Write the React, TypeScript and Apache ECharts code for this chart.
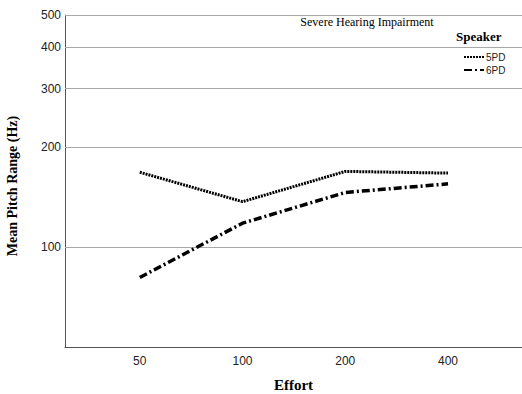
import React, { useEffect, useRef } from "react";
import * as echarts from "echarts";

const categories = ["50", "100", "200", "400"];
const series5PD = [168, 137, 169, 167];
const series6PD = [81, 118, 146, 155];
const yTicks = [100, 200, 300, 400, 500];

export default function App() {
  const ref = useRef<HTMLDivElement>(null);
  useEffect(() => {
    if (!ref.current) return;
    const chart = echarts.init(ref.current, undefined, { renderer: "svg" });
    const toPairs = (arr: number[]) => arr.map((v, i) => [i, v]);
    chart.setOption({
      animation: false,
      backgroundColor: "#ffffff",
      title: {
        text: "Severe Hearing Impairment",
        left: 362,
        top: 11,
        textAlign: "center",
        textStyle: { fontFamily: "Liberation Serif", fontSize: 12, fontWeight: "normal", color: "#000" },
      },
      graphic: [
        {
          type: "text",
          left: 456,
          top: 30,
          style: { text: "Speaker", fontFamily: "Liberation Serif", fontSize: 13, fontWeight: "bold", fill: "#000" },
        },
      ],
      legend: {
        orient: "vertical",
        left: 458,
        top: 47,
        itemWidth: 20,
        itemHeight: 8,
        itemGap: 3,
        itemStyle: { opacity: 0 },
        textStyle: { fontFamily: "Liberation Sans", fontSize: 10, color: "#222", padding: [0, 0, 0, -3] },
        data: ["5PD", "6PD"],
      },
      grid: { left: 65, right: 0, top: 15, bottom: 47, outerBoundsMode: "none" },
      xAxis: {
        type: "value",
        min: -0.728,
        max: 3.72,
        name: "Effort",
        nameLocation: "middle",
        nameGap: 30,
        nameTextStyle: { fontFamily: "Liberation Serif", fontSize: 15, fontWeight: "bold", color: "#000" },
        axisLine: { show: true, onZero: false, lineStyle: { color: "#555", width: 1 } },
        axisTick: { show: false },
        splitLine: { show: false },
        axisLabel: {
          customValues: [0, 1, 2, 3],
          formatter: (v: number) => categories[Math.round(v)],
          fontFamily: "Liberation Sans",
          fontSize: 12,
          color: "#222",
          margin: 8,
        },
      },
      yAxis: {
        type: "log",
        logBase: 10,
        min: 50,
        max: 500,
        name: "Mean Pitch Range (Hz)",
        nameLocation: "middle",
        nameGap: 46,
        nameTextStyle: {
          fontFamily: "Liberation Serif",
          fontSize: 14,
          fontWeight: "bold",
          color: "#000",
          padding: [0, 10, 0, 0],
        },
        axisLine: { show: true, onZero: false, lineStyle: { color: "#555", width: 1 } },
        axisTick: { show: false },
        splitLine: { show: false },
        axisLabel: {
          customValues: yTicks,
          fontFamily: "Liberation Sans",
          fontSize: 12,
          color: "#222",
          margin: 4,
        },
      },
      series: [
        {
          name: "5PD",
          type: "line",
          data: toPairs(series5PD),
          showSymbol: false,
          symbol: "none",
          color: "#000",
          lineStyle: { color: "#000", width: 3, type: [2, 1] },
          markLine: {
            silent: true,
            symbol: "none",
            label: { show: false },
            lineStyle: { color: "#a8a8a8", width: 1, type: "solid" },
            data: yTicks.map((v) => ({ yAxis: v })),
            z: 1,
          },
          z: 3,
        },
        {
          name: "6PD",
          type: "line",
          data: toPairs(series6PD),
          showSymbol: false,
          symbol: "none",
          color: "#000",
          lineStyle: { color: "#000", width: 3.5, type: [8, 3, 2, 3] },
          z: 3,
        },
      ],
    });
    return () => chart.dispose();
  }, []);
  return <div ref={ref} style={{ width: 522, height: 394, position: "absolute", left: 0, top: 0 }} />;
}
